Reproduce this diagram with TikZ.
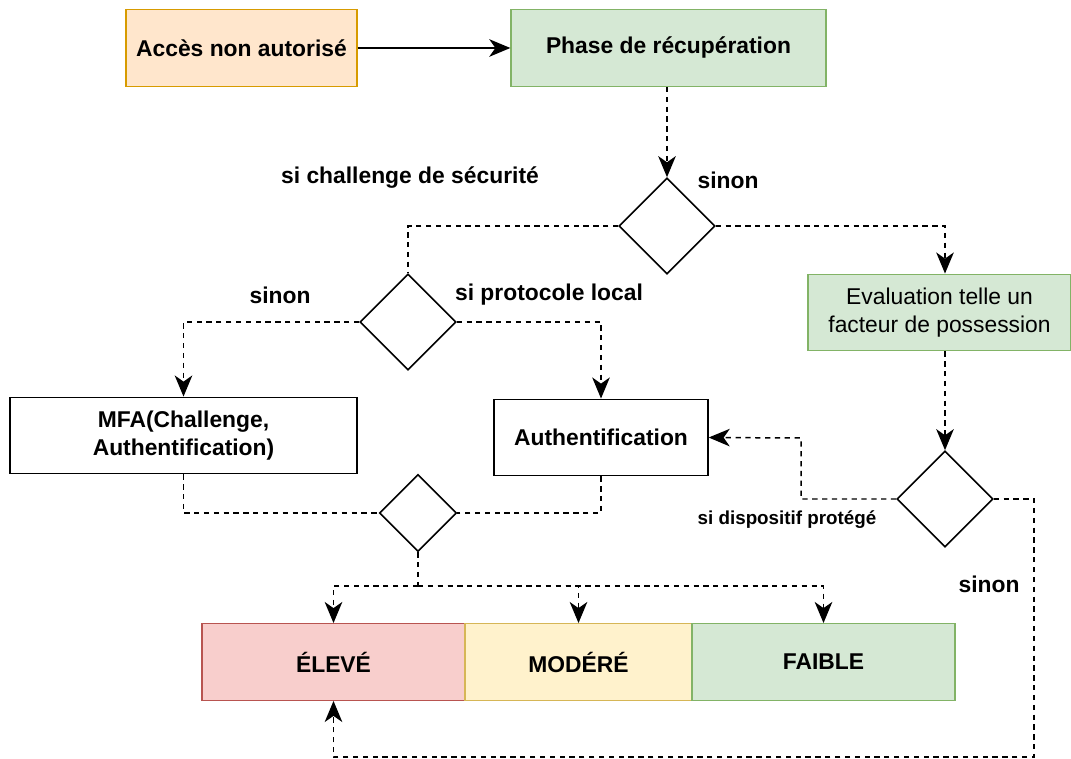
\documentclass[tikz,border=0pt]{standalone}
\usepackage{fontspec}
\setmainfont{Liberation Sans}
\usetikzlibrary{shapes.geometric,arrows.meta}
\definecolor{orfill}{HTML}{FFE6CC}
\definecolor{ordraw}{HTML}{D79B00}
\definecolor{grfill}{HTML}{D5E8D4}
\definecolor{grdraw}{HTML}{82B366}
\definecolor{rdfill}{HTML}{F8CECC}
\definecolor{rddraw}{HTML}{B85450}
\definecolor{yefill}{HTML}{FFF2CC}
\definecolor{yedraw}{HTML}{D6B656}
\begin{document}
\begin{tikzpicture}[x=0.02cm,y=-0.02cm,
  every node/.style={font=\fontsize{13}{15.5}\selectfont},
  box/.style={draw, line width=0.8pt, rectangle, align=center, minimum height=1.53cm, font=\fontsize{13}{15.5}\selectfont\bfseries},
  choice/.style={draw, line width=0.9pt, diamond, aspect=1, inner sep=0pt, minimum width=1.92cm, minimum height=1.92cm},
  tip/.style={-{Stealth[length=12pt,width=10pt,inset=3.5pt]}},
  flow/.style={line width=0.85pt, dash pattern=on 3pt off 2.6pt, tip},
  link/.style={line width=0.85pt, dash pattern=on 3pt off 2.6pt},
  lbl/.style={font=\fontsize{13}{15.5}\selectfont\bfseries}]
\useasboundingbox (0,0) rectangle (1071,759);
% boites du haut
\node[box, fill=orfill, draw=ordraw, minimum width=4.62cm] (acces) at (241.5,48) {Accès non autorisé};
\node[box, fill=grfill, draw=grdraw, minimum width=6.3cm] (phase) at (668.5,48) {Phase de récupération};
\draw[line width=0.85pt, tip] (acces) -- (phase);
% decisions
\node[choice] (d1) at (667,226) {};
\node[choice] (d2) at (408,322) {};
\node[choice, minimum width=1.54cm, minimum height=1.54cm] (d3) at (418,513) {};
\node[choice] (d4) at (945,499) {};
\node[box, fill=grfill, draw=grdraw, minimum width=5.26cm, font=\fontsize{13}{15.5}\selectfont] (eval) at (939.5,312.5) {Evaluation telle un\\facteur de possession};
\node[box, fill=white, minimum width=6.94cm] (mfa) at (183.5,435.5) {MFA(Challenge,\\Authentification)};
\node[box, fill=white, minimum width=4.28cm] (auth) at (601,437.5) {Authentification};
% niveaux
\node[box, fill=rdfill, draw=rddraw, minimum width=5.26cm] (eleve) at (333.5,662) {ÉLEVÉ};
\node[box, fill=yefill, draw=yedraw, minimum width=4.54cm] (modere) at (578.5,662) {MODÉRÉ};
\node[box, fill=grfill, draw=grdraw, minimum width=5.26cm] (faible) at (823.5,662) {FAIBLE};
% etiquettes
\node[lbl] (l1) at (410,178) {si challenge de sécurité};
\node[lbl] (l2) at (728,180) {sinon};
\node[lbl] (l3) at (280,295) {sinon};
\node[lbl] (l4) at (549,295) {si protocole local};
\node[lbl, font=\fontsize{10.7}{13}\selectfont\bfseries] (l5) at (787,520) {si dispositif protégé};
\node[lbl] (l6) at (989,584) {sinon};
% liens
\draw[flow] (phase.south -| d1) -- (d1.north);
\draw[link] (d1.west) -| (d2.north);
\draw[flow] (d1.east) -| (d4 |- eval.north);
\draw[flow] (d2.west) -| (mfa.north);
\draw[flow] (d2.east) -| (auth.north);
\draw[link] (mfa.south) |- (d3.west);
\draw[link] (auth.south) |- (d3.east);
\coordinate (split) at (418,586);
\draw[link] (d3.south) -- (split);
\draw[flow] (split) -| (eleve.north);
\draw[flow] (split) -| (modere.north);
\draw[flow] (split) -| (faible.north);
\draw[flow] (d4 |- eval.south) -- (d4.north);
\coordinate (back) at (801,438);
\draw[flow] (d4.west) -| (back) -- (auth.east);
\coordinate (loop) at (1034,757);
\draw[flow] (d4.east) -| (loop) -| (eleve.south);
\end{tikzpicture}
\end{document}
